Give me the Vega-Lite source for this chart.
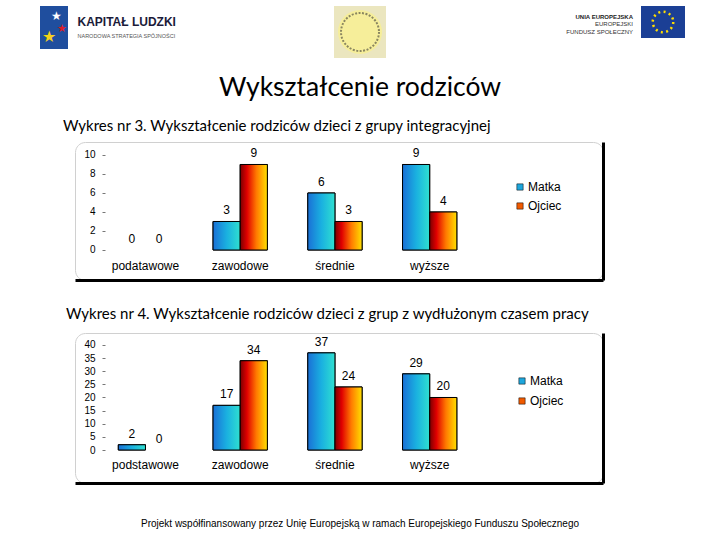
{
  "$schema": "https://vega.github.io/schema/vega-lite/v6.json",
  "padding": {"left": 40, "top": 0, "right": 0, "bottom": 0},
  "spacing": 0,
  "config": {"view": {"stroke": null}, "font": "Liberation Sans"},
  "resolve": {"scale": {"color": "independent"}, "legend": {"color": "independent"}},
  "vconcat": [
    {
      "spacing": 0,
      "hconcat": [
        {
          "width": 28, "height": 43,
          "view": {"fill": "#1f4e9e"},
          "data": {"values": [{"g": "★"}]},
          "layer": [
            {"mark": {"type": "text", "fontSize": 12, "color": "white", "dx": 2, "dy": -12}, "encoding": {"text": {"field": "g"}}},
            {"mark": {"type": "text", "fontSize": 11, "color": "#d8202a", "dx": 8, "dy": 1}, "encoding": {"text": {"field": "g"}}},
            {"mark": {"type": "text", "fontSize": 16, "color": "#f3d21c", "dx": -5, "dy": 9}, "encoding": {"text": {"field": "g"}}}
          ]
        },
        {"width": 2, "height": 1, "data": {"values": [{"s": ""}]}, "mark": "text", "encoding": {"text": {"field": "s"}}},
        {
          "width": 105, "height": 50,
          "data": {"values": [{"t1": "KAPITAŁ LUDZKI", "t2": "NARODOWA STRATEGIA SPÓJNOŚCI"}]},
          "layer": [
            {"mark": {"type": "text", "align": "left", "baseline": "middle", "dx": -45, "dy": -9, "fontSize": 12, "fontWeight": "bold", "color": "#1b1b3a"},
             "encoding": {"text": {"field": "t1"}}},
            {"mark": {"type": "text", "align": "left", "baseline": "middle", "dx": -45, "dy": 5, "fontSize": 5.5, "color": "#555555"},
             "encoding": {"text": {"field": "t2"}}}
          ]
        },
        {"width": 158, "height": 1, "data": {"values": [{"s": ""}]}, "mark": "text", "encoding": {"text": {"field": "s"}}},
        {
          "width": 52, "height": 52,
          "view": {"fill": "#ebe6bf"},
          "data": {"values": [{"s": "logo"}]},
          "layer": [
            {"mark": {"type": "point", "shape": "circle", "filled": true, "size": 1936, "opacity": 1, "color": "#f6ee9a"}, "encoding": {}},
            {"mark": {"type": "point", "shape": "circle", "filled": false, "size": 1444, "opacity": 1, "color": "#8a8660", "strokeWidth": 2, "strokeDash": [2, 1.5]}, "encoding": {}}
          ]
        },
        {"width": 177, "height": 1, "data": {"values": [{"s": ""}]}, "mark": "text", "encoding": {"text": {"field": "s"}}},
        {
          "width": 70, "height": 36,
          "data": {"values": [{"a": "UNIA EUROPEJSKA", "b": "EUROPEJSKI", "c": "FUNDUSZ SPOŁECZNY"}]},
          "layer": [
            {"mark": {"type": "text", "align": "right", "baseline": "middle", "dx": 35, "dy": -7.5, "fontSize": 6, "fontWeight": "bold", "color": "#222222"},
             "encoding": {"text": {"field": "a"}}},
            {"mark": {"type": "text", "align": "right", "baseline": "middle", "dx": 35, "fontSize": 6, "color": "#333333"},
             "encoding": {"text": {"field": "b"}}},
            {"mark": {"type": "text", "align": "right", "baseline": "middle", "dx": 35, "dy": 7.5, "fontSize": 6, "color": "#333333"},
             "encoding": {"text": {"field": "c"}}}
          ]
        },
        {"width": 8, "height": 1, "data": {"values": [{"s": ""}]}, "mark": "text", "encoding": {"text": {"field": "s"}}},
        {
          "width": 44, "height": 32,
          "view": {"fill": "#1b3f95"},
          "data": {"values": [{"s": "flaga"}]},
          "mark": {"type": "point", "shape": "circle", "filled": false, "size": 420, "opacity": 1, "color": "#ffdd00", "strokeWidth": 2.5, "strokeDash": [2, 3.4]},
          "encoding": {}
        }
      ]
    },
    {
      "width": 640, "height": 60,
      "data": {"values": [{"t": "Wykształcenie rodziców"}]},
      "mark": {"type": "text", "font": "Lato", "fontSize": 26.5, "color": "black"},
      "encoding": {"text": {"field": "t"}}
    },
    {
      "spacing": 0,
      "resolve": {"scale": {"color": "independent"}, "legend": {"color": "independent"}},
      "hconcat": [
        {"width": 22, "height": 1, "data": {"values": [{"s": ""}]}, "mark": "text", "encoding": {"text": {"field": "s"}}},
        {
          "width": 528, "height": 138,
          "view": {"stroke": "#d0d0d0", "strokeWidth": 1, "cornerRadius": 10},
          "title": {"text": "Wykres nr 3. Wykształcenie rodziców dzieci z grupy integracyjnej", "anchor": "start", "dx": -12, "offset": 8, "font": "Lato", "fontSize": 15, "fontWeight": "normal", "color": "black"},
          "data": {"values": [
            {"kategoria": "podatawowe", "rodzic": "Matka", "liczba": 0},
            {"kategoria": "podatawowe", "rodzic": "Ojciec", "liczba": 0},
            {"kategoria": "zawodowe", "rodzic": "Matka", "liczba": 3},
            {"kategoria": "zawodowe", "rodzic": "Ojciec", "liczba": 9},
            {"kategoria": "średnie", "rodzic": "Matka", "liczba": 6},
            {"kategoria": "średnie", "rodzic": "Ojciec", "liczba": 3},
            {"kategoria": "wyższe", "rodzic": "Matka", "liczba": 9},
            {"kategoria": "wyższe", "rodzic": "Ojciec", "liczba": 4}
          ]},
          "encoding": {
            "x": {"field": "kategoria", "type": "nominal", "sort": ["podatawowe", "zawodowe", "średnie", "wyższe"],
                  "scale": {"paddingInner": 0.427, "paddingOuter": 1.18, "align": 0.2286},
                  "axis": {"title": null, "labelAngle": 0, "domain": true, "domainColor": "black", "domainWidth": 3, "ticks": false, "tickSize": 0, "labelPadding": -15, "labelBaseline": "middle", "labelFontSize": 12, "labelFont": "Liberation Sans", "labelColor": "black", "grid": false}},
            "xOffset": {"field": "rodzic", "type": "nominal", "sort": ["Matka", "Ojciec"]}
          },
          "layer": [
            {
              "transform": [{"filter": "datum.liczba > 0"}],
              "mark": {"type": "bar", "stroke": "black", "strokeWidth": 1},
              "encoding": {
                "y": {"field": "liczba", "type": "quantitative", "scale": {"domain": [-3.158, 11.368], "nice": false},
                      "axis": {"title": null, "orient": "left", "offset": -30, "values": [0, 2, 4, 6, 8, 10], "domain": false, "ticks": true, "tickSize": 3, "tickColor": "#777777", "labelPadding": 7, "labelFontSize": 10, "labelFont": "Liberation Sans", "labelColor": "black", "grid": false}},
                "color": {"field": "rodzic", "type": "nominal", "scale": {"domain": ["Matka", "Ojciec"], "range": ["#1ea6dc", "#f05a00"]},
                          "legend": {"title": null, "orient": "none", "legendX": 439, "legendY": 39, "symbolType": "square", "symbolSize": 40, "symbolStrokeColor": "black", "symbolStrokeWidth": 0.5, "labelFontSize": 12, "labelFont": "Liberation Sans", "labelColor": "black", "rowPadding": 7, "labelOffset": 2}}
              }
            },
            {
              "transform": [{"filter": "datum.liczba > 0 && datum.rodzic == 'Matka'"}],
              "mark": {"type": "bar", "stroke": "black", "strokeWidth": 1,
                       "fill": {"gradient": "linear", "x1": 0, "y1": 0, "x2": 1, "y2": 0, "stops": [{"offset": 0, "color": "#1a70d6"}, {"offset": 0.5, "color": "#1ab0e0"}, {"offset": 1, "color": "#2fe0d0"}]}},
              "encoding": {"y": {"field": "liczba", "type": "quantitative", "scale": {"domain": [-3.158, 11.368], "nice": false}, "axis": null}}
            },
            {
              "transform": [{"filter": "datum.liczba > 0 && datum.rodzic == 'Ojciec'"}],
              "mark": {"type": "bar", "stroke": "black", "strokeWidth": 1,
                       "fill": {"gradient": "linear", "x1": 0, "y1": 0, "x2": 1, "y2": 0, "stops": [{"offset": 0, "color": "#7a0000"}, {"offset": 0.25, "color": "#e00000"}, {"offset": 0.6, "color": "#ff7a00"}, {"offset": 1, "color": "#ffe000"}]}},
              "encoding": {"y": {"field": "liczba", "type": "quantitative", "scale": {"domain": [-3.158, 11.368], "nice": false}, "axis": null}}
            },
            {
              "mark": {"type": "text", "baseline": "bottom", "dy": -4, "fontSize": 12, "font": "Liberation Sans", "color": "black"},
              "encoding": {
                "y": {"field": "liczba", "type": "quantitative", "scale": {"domain": [-3.158, 11.368], "nice": false},
                      "axis": {"title": null, "orient": "right", "domain": true, "domainColor": "black", "domainWidth": 3, "ticks": false, "labels": false, "grid": false}},
                "text": {"field": "liczba", "type": "quantitative"}
              }
            }
          ],
          "resolve": {"axis": {"y": "independent"}}
        }
      ]
    },
    {"width": 1, "height": 25, "data": {"values": [{"s": ""}]}, "mark": "text", "encoding": {"text": {"field": "s"}}},
    {
      "spacing": 0,
      "resolve": {"scale": {"color": "independent"}, "legend": {"color": "independent"}},
      "hconcat": [
        {"width": 25, "height": 1, "data": {"values": [{"s": ""}]}, "mark": "text", "encoding": {"text": {"field": "s"}}},
        {
          "width": 528, "height": 150,
          "view": {"stroke": "#d0d0d0", "strokeWidth": 1, "cornerRadius": 10},
          "title": {"text": "Wykres nr 4. Wykształcenie rodziców dzieci z grup z wydłużonym czasem pracy", "anchor": "start", "dx": -9, "offset": 11, "font": "Lato", "fontSize": 15, "fontWeight": "normal", "color": "black"},
          "data": {"values": [
            {"kategoria": "podstawowe", "rodzic": "Matka", "liczba": 2},
            {"kategoria": "podstawowe", "rodzic": "Ojciec", "liczba": 0},
            {"kategoria": "zawodowe", "rodzic": "Matka", "liczba": 17},
            {"kategoria": "zawodowe", "rodzic": "Ojciec", "liczba": 34},
            {"kategoria": "średnie", "rodzic": "Matka", "liczba": 37},
            {"kategoria": "średnie", "rodzic": "Ojciec", "liczba": 24},
            {"kategoria": "wyższe", "rodzic": "Matka", "liczba": 29},
            {"kategoria": "wyższe", "rodzic": "Ojciec", "liczba": 20}
          ]},
          "encoding": {
            "x": {"field": "kategoria", "type": "nominal", "sort": ["podstawowe", "zawodowe", "średnie", "wyższe"],
                  "scale": {"paddingInner": 0.427, "paddingOuter": 1.18, "align": 0.2286},
                  "axis": {"title": null, "labelAngle": 0, "domain": true, "domainColor": "black", "domainWidth": 3, "ticks": false, "tickSize": 0, "labelPadding": -19, "labelBaseline": "middle", "labelFontSize": 12, "labelFont": "Liberation Sans", "labelColor": "black", "grid": false}},
            "xOffset": {"field": "rodzic", "type": "nominal", "sort": ["Matka", "Ojciec"]}
          },
          "layer": [
            {
              "transform": [{"filter": "datum.liczba > 0"}],
              "mark": {"type": "bar", "stroke": "black", "strokeWidth": 1},
              "encoding": {
                "y": {"field": "liczba", "type": "quantitative", "scale": {"domain": [-12.571, 44.571], "nice": false},
                      "axis": {"title": null, "orient": "left", "offset": -30, "values": [0, 5, 10, 15, 20, 25, 30, 35, 40], "domain": false, "ticks": true, "tickSize": 3, "tickColor": "#777777", "labelPadding": 7, "labelFontSize": 10, "labelFont": "Liberation Sans", "labelColor": "black", "grid": false}},
                "color": {"field": "rodzic", "type": "nominal", "scale": {"domain": ["Matka", "Ojciec"], "range": ["#1ea6dc", "#f05a00"]},
                          "legend": {"title": null, "orient": "none", "legendX": 441, "legendY": 42, "symbolType": "square", "symbolSize": 40, "symbolStrokeColor": "black", "symbolStrokeWidth": 0.5, "labelFontSize": 12, "labelFont": "Liberation Sans", "labelColor": "black", "rowPadding": 8, "labelOffset": 2}}
              }
            },
            {
              "transform": [{"filter": "datum.liczba > 0 && datum.rodzic == 'Matka'"}],
              "mark": {"type": "bar", "stroke": "black", "strokeWidth": 1,
                       "fill": {"gradient": "linear", "x1": 0, "y1": 0, "x2": 1, "y2": 0, "stops": [{"offset": 0, "color": "#1a70d6"}, {"offset": 0.5, "color": "#1ab0e0"}, {"offset": 1, "color": "#2fe0d0"}]}},
              "encoding": {"y": {"field": "liczba", "type": "quantitative", "scale": {"domain": [-12.571, 44.571], "nice": false}, "axis": null}}
            },
            {
              "transform": [{"filter": "datum.liczba > 0 && datum.rodzic == 'Ojciec'"}],
              "mark": {"type": "bar", "stroke": "black", "strokeWidth": 1,
                       "fill": {"gradient": "linear", "x1": 0, "y1": 0, "x2": 1, "y2": 0, "stops": [{"offset": 0, "color": "#7a0000"}, {"offset": 0.25, "color": "#e00000"}, {"offset": 0.6, "color": "#ff7a00"}, {"offset": 1, "color": "#ffe000"}]}},
              "encoding": {"y": {"field": "liczba", "type": "quantitative", "scale": {"domain": [-12.571, 44.571], "nice": false}, "axis": null}}
            },
            {
              "mark": {"type": "text", "baseline": "bottom", "dy": -4, "fontSize": 12, "font": "Liberation Sans", "color": "black"},
              "encoding": {
                "y": {"field": "liczba", "type": "quantitative", "scale": {"domain": [-12.571, 44.571], "nice": false},
                      "axis": {"title": null, "orient": "right", "domain": true, "domainColor": "black", "domainWidth": 3, "ticks": false, "labels": false, "grid": false}},
                "text": {"field": "liczba", "type": "quantitative"}
              }
            }
          ],
          "resolve": {"axis": {"y": "independent"}}
        }
      ]
    },
    {
      "width": 640, "height": 79,
      "data": {"values": [{"t": "Projekt współfinansowany przez Unię Europejską w ramach Europejskiego Funduszu Społecznego"}]},
      "mark": {"type": "text", "fontSize": 10, "font": "Liberation Sans", "color": "black"},
      "encoding": {"text": {"field": "t"}}
    }
  ]
}
